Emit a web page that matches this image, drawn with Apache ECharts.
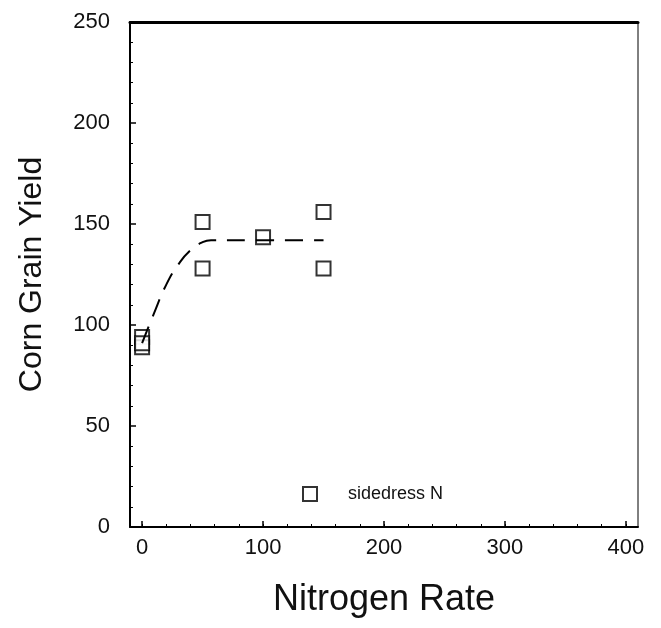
<!DOCTYPE html>
<html>
<head>
<meta charset="utf-8">
<script src="https://cdn.jsdelivr.net/npm/echarts@6/dist/echarts.min.js"></script>
<style>
  html, body { margin: 0; padding: 0; background: #fff; }
  #chart { width: 661px; height: 628px; }
</style>
</head>
<body>
<div id="chart"></div>
<script>
// observed yields (nitrogen rate, yield)
var obsRate = [0, 0, 0, 50, 50, 100, 150, 150];
var obsYield = [94, 89, 91, 151, 128, 143.5, 156, 128];

// fitted quadratic-plateau curve
var fitRate = [0, 10, 20, 30, 40, 50, 57, 100, 150];
var fitYield = [91, 106, 120, 130, 137, 141, 142, 142, 142];

var xMajor = [0, 100, 200, 300, 400];
var xMinor = [0, 20, 40, 60, 80, 100, 120, 140, 160, 180, 200, 220, 240, 260, 280, 300, 320, 340, 360, 380, 400];

var font = 'Liberation Sans, Arial, sans-serif';

var myChart = echarts.init(document.getElementById('chart'));

var points = obsRate.map(function (r, i) { return [r, obsYield[i]]; });
var curve = fitRate.map(function (r, i) { return [r, fitYield[i]]; });

var option = {
    backgroundColor: '#fff',
    animation: false,
    grid: {
        left: 130, right: 23, top: 22, bottom: 101,
        show: true, borderColor: '#000', borderWidth: 1
    },
    legend: {
        data: ['sidedress N'],
        left: 297, top: 480,
        itemWidth: 14, itemHeight: 14,
        textStyle: { fontFamily: font, fontSize: 18, color: '#111', padding: [0, 0, 0, 26] }
    },
    xAxis: [
        {
            type: 'value', min: -10, max: 410,
            name: 'Nitrogen Rate', nameLocation: 'middle', nameGap: 55,
            nameTextStyle: { fontFamily: font, fontSize: 36, color: '#111' },
            axisLine: { onZero: false, lineStyle: { color: '#000', width: 2 } },
            axisTick: { inside: true, length: 6, customValues: xMajor, lineStyle: { color: '#000', width: 1.5 } },
            axisLabel: { customValues: xMajor, fontFamily: font, fontSize: 22, color: '#111', margin: 10 },
            splitLine: { show: false }
        },
        {
            type: 'value', min: -10, max: 410, position: 'bottom',
            axisLine: { show: false },
            axisTick: { inside: true, length: 3, customValues: xMinor, lineStyle: { color: '#000', width: 1 } },
            axisLabel: { show: false },
            splitLine: { show: false }
        },
        {
            type: 'value', min: -10, max: 410, position: 'top',
            axisLine: { show: true, lineStyle: { color: '#000', width: 3 } },
            axisTick: { show: false }, axisLabel: { show: false }, splitLine: { show: false }
        }
    ],
    yAxis: {
        type: 'value', min: 0, max: 250, interval: 50,
        name: 'Corn Grain Yield', nameLocation: 'middle', nameGap: 82,
        nameTextStyle: { fontFamily: font, fontSize: 32, color: '#111' },
        axisLine: { show: true, onZero: false, lineStyle: { color: '#000', width: 2 } },
        axisTick: { inside: true, length: 6, lineStyle: { color: '#000', width: 1.5 } },
        minorTick: { show: true, splitNumber: 5, length: 3, lineStyle: { color: '#000', width: 1 } },
        axisLabel: { fontFamily: font, fontSize: 22, color: '#111', margin: 20 },
        splitLine: { show: false }
    },
    series: [
        {
            name: 'sidedress N',
            type: 'scatter',
            symbol: 'emptyRect',
            symbolSize: 14,
            itemStyle: { color: '#000', borderColor: '#000', borderWidth: 1.5 },
            data: points
        },
        {
            name: 'fit',
            type: 'line',
            smooth: true,
            symbol: 'none',
            lineStyle: { color: '#000', width: 2, type: [18, 11] },
            data: curve
        }
    ]
};

myChart.setOption(option);

window.addEventListener('resize', function () {
    myChart.resize();
});
</script>
</body>
</html>
